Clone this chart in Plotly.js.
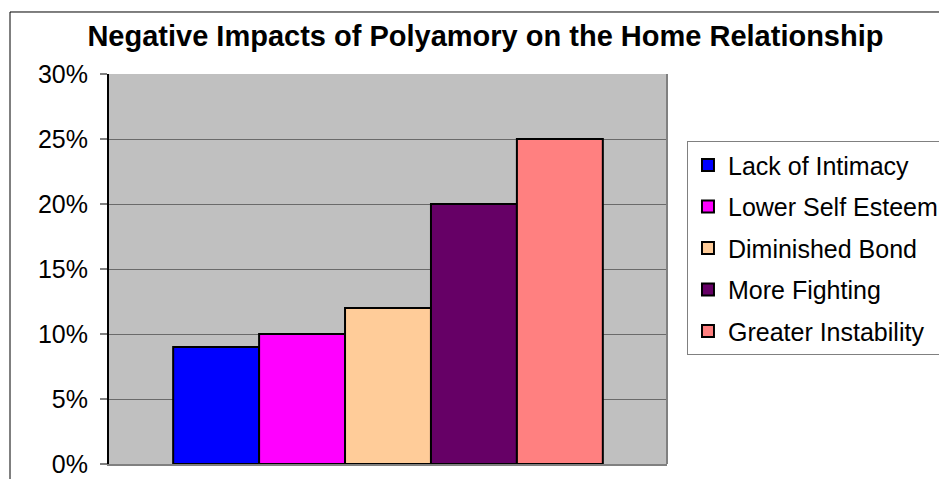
<!DOCTYPE html>
<html>
<head>
<meta charset="utf-8">
<script src="https://cdn.plot.ly/plotly-3.0.1.min.js"></script>
<style>html,body{margin:0;padding:0;background:#fff;}#chart{width:939px;height:479px;}</style>
</head>
<body>
<div id="chart"></div>
<script>
const categories = [""];
const seriesNames = ["Lack of Intimacy", "Lower Self Esteem", "Diminished Bond", "More Fighting", "Greater Instability"];
const seriesValues = [0.09, 0.10, 0.12, 0.20, 0.25];
const seriesColors = ["#0000FF", "#FF00FF", "#FFCC99", "#660066", "#FF8080"];
const yTickVals = [0, 0.05, 0.10, 0.15, 0.20, 0.25, 0.30];
const yTickText = ["0%", "5%", "10%", "15%", "20%", "25%", "30%"];

const traces = seriesNames.map((name, i) => ({
  type: "bar",
  name: name,
  x: categories,
  y: [seriesValues[i]],
  legendgroup: "g" + i,
  marker: {color: seriesColors[i], line: {color: "#000000", width: 2}},
  hoverinfo: "none"
}));

const font = "Liberation Sans, Arial, sans-serif";
const layout = {
  width: 939, height: 479,
  margin: {l: 109, r: 272, t: 74, b: 15, pad: 0},
  paper_bgcolor: "#FFFFFF",
  plot_bgcolor: "#C0C0C0",
  barmode: "group",
  bargap: 0.23,
  bargroupgap: 0,
  showlegend: true,
  title: {text: "<b>Negative Impacts of Polyamory on the Home Relationship</b>",
          font: {family: font, size: 29, color: "#000"}, x: 0.517, xanchor: "center", y: 0.925, yanchor: "middle"},
  xaxis: {showticklabels: false, ticks: "", showgrid: false, zeroline: false,
          showline: true, linecolor: "#808080", linewidth: 2, mirror: false, range: [-0.5, 0.5]},
  yaxis: {range: [0, 0.30], tickvals: yTickVals, ticktext: yTickText,
          tickfont: {family: font, size: 25, color: "#000"},
          ticks: "outside", ticklen: 7, tickcolor: "#808080", tickwidth: 2,
          ticklabelstandoff: 7,
          showgrid: true, gridcolor: "#6A6A6A", gridwidth: 1,
          zeroline: false, showline: true, linecolor: "#000000", linewidth: 2},
  legend: {xref: "container", yref: "container", x: 0.7316, xanchor: "left", y: 0.705, yanchor: "top",
           font: {family: font, size: 25, color: "#000"},
           bordercolor: "#808080", borderwidth: 1, bgcolor: "#FFFFFF",
           traceorder: "grouped", tracegroupgap: 6, itemclick: false},
  shapes: [
    {type: "line", xref: "paper", yref: "paper", x0: 1, x1: 1, y0: 0, y1: 1,
     line: {color: "#808080", width: 2}},
    {type: "rect", xref: "paper", yref: "paper", x0: -0.1774, x1: 1.7, y0: -0.2, y1: 1.159,
     line: {color: "#000000", width: 1}, fillcolor: "rgba(0,0,0,0)", layer: "below"}
  ]
};

Plotly.newPlot("chart", traces, layout, {displayModeBar: false, staticPlot: true});
</script>
</body>
</html>
